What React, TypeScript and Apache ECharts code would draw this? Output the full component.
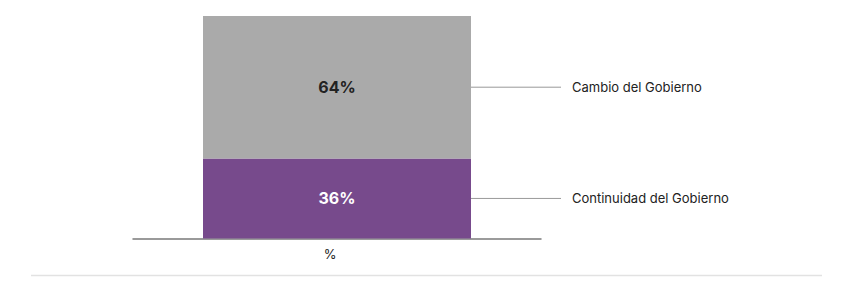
import React, { useEffect, useRef } from "react";
import * as echarts from "echarts";

const categories = ["%"];
const seriesNames = ["Continuidad del Gobierno", "Cambio del Gobierno"];
const continuidad = [36];
const cambio = [64];

const PURPLE = "#774a8c";
const GRAY = "#aaaaaa";
const FONT = "Inter, 'Noto Sans', sans-serif";

export default function App() {
  const ref = useRef<HTMLDivElement>(null);
  useEffect(() => {
    if (!ref.current) return;
    const chart = echarts.init(ref.current, null, { renderer: "svg" });
    const pctLabel = (color: string) => ({
      show: true,
      position: "inside",
      formatter: (p: any) => `${p.value}%`,
      color,
      fontFamily: FONT,
      fontWeight: "bold",
      fontSize: 16,
    });
    const sideLabel = {
      show: true,
      position: "right",
      distance: 5,
      formatter: (p: any) => p.seriesName,
      color: "#222",
      fontFamily: FONT,
      fontSize: 13,
      padding: [0, 0, 0, 11],
      backgroundColor: "rgba(255,255,255,0)",
    };
    const labelLine = { show: true, lineStyle: { color: "#999", width: 1 } };
    chart.setOption({
      animation: false,
      grid: { left: 133, right: 311, top: 16, bottom: 44.5, containLabel: false },
      xAxis: {
        type: "category",
        data: categories,
        axisLine: { show: true, lineStyle: { color: "#7a7a7a", width: 1.5 } },
        axisTick: { show: false },
        axisLabel: { color: "#222", fontFamily: FONT, fontSize: 13, margin: 9, padding: [0, 14, 0, 0] },
      },
      yAxis: { type: "value", min: 0, max: 100, show: false, splitLine: { show: false } },
      series: [
        {
          name: seriesNames[0],
          type: "bar",
          stack: "a",
          data: continuidad,
          barWidth: 268,
          itemStyle: { color: PURPLE },
          label: pctLabel("#ffffff"),
        },
        {
          name: seriesNames[1],
          type: "bar",
          stack: "a",
          data: cambio,
          barWidth: 268,
          itemStyle: { color: GRAY },
          label: pctLabel("#222222"),
        },
        {
          name: seriesNames[0],
          type: "bar",
          stack: "b",
          data: continuidad,
          barWidth: 268,
          barGap: "-100%",
          itemStyle: { color: "rgba(0,0,0,0)" },
          label: sideLabel,
          labelLayout: { dx: 85 },
          labelLine,
          silent: true,
        },
        {
          name: seriesNames[1],
          type: "bar",
          stack: "b",
          data: cambio,
          barWidth: 268,
          barGap: "-100%",
          itemStyle: { color: "rgba(0,0,0,0)" },
          label: sideLabel,
          labelLayout: { dx: 85 },
          labelLine,
          silent: true,
        },
      ],
      graphic: [
        {
          type: "line",
          shape: { x1: 31, y1: 275.5, x2: 822, y2: 275.5 },
          style: { stroke: "#e2e2e2", lineWidth: 1.5 },
          silent: true,
        },
      ],
    });
    return () => chart.dispose();
  }, []);
  return (
    <div
      ref={ref}
      style={{ position: "fixed", left: 0, top: 0, width: 852, height: 283, background: "#fff" }}
    />
  );
}
